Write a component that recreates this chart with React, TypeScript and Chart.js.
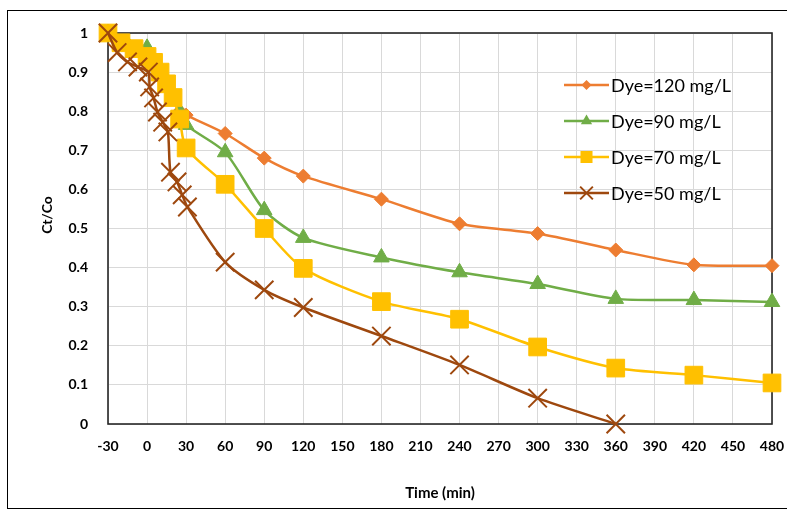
import React, { useEffect, useRef } from 'react';
import { Chart, registerables } from 'chart.js';

Chart.register(...registerables);

// ---- data ----
const xMin = -30;
const xMax = 480;
const xStep = 30;
const yMin = 0;
const yMax = 1;
const yStep = 0.1;

const seriesNames = ['Dye=120 mg/L', 'Dye=90 mg/L', 'Dye=70 mg/L', 'Dye=50 mg/L'];
const seriesColors = ['#ED7D31', '#70AD47', '#FFC000', '#9E480E'];

const time120 = [-30, -15, 0, 5, 10, 15, 20, 25, 30, 60, 90, 120, 180, 240, 300, 360, 420, 480];
const ratio120 = [1.0, 0.972, 0.945, 0.93, 0.905, 0.875, 0.84, 0.8, 0.79, 0.743, 0.68, 0.634, 0.575, 0.512, 0.487, 0.445, 0.407, 0.405];

const time90 = [-30, -15, 0, 5, 10, 15, 20, 25, 30, 60, 90, 120, 180, 240, 300, 360, 420, 480];
const ratio90 = [1.0, 0.972, 0.962, 0.93, 0.905, 0.875, 0.84, 0.8, 0.765, 0.695, 0.547, 0.476, 0.426, 0.388, 0.358, 0.32, 0.317, 0.312];

const time70 = [-30, -20, -10, 0, 5, 10, 15, 20, 25, 30, 60, 90, 120, 180, 240, 300, 360, 420, 480];
const ratio70 = [1.0, 0.975, 0.96, 0.94, 0.925, 0.9, 0.87, 0.835, 0.78, 0.706, 0.613, 0.5, 0.398, 0.313, 0.268, 0.197, 0.143, 0.125, 0.105];

const time50 = [-30, -23, -15, -7, 1, 2, 5, 8, 12, 16, 18, 23, 27, 31, 60, 90, 120, 180, 240, 300, 360];
const ratio50 = [1.0, 0.95, 0.926, 0.913, 0.9, 0.862, 0.834, 0.798, 0.772, 0.747, 0.644, 0.619, 0.586, 0.555, 0.414, 0.343, 0.298, 0.225, 0.151, 0.066, 0.0];

const seriesTimes = [time120, time90, time70, time50];
const seriesRatios = [ratio120, ratio90, ratio70, ratio50];

const pointStyles = ['rectRot', 'triangle', 'rect', 'crossRot'];
const pointRadii = [7, 9, 12.5, 13];
const legendRadii = [5, 6.5, 8.5, 9];

const FONT = 'Lato, "Open Sans", sans-serif';

function drawMarker(ctx: CanvasRenderingContext2D, style: string, x: number, y: number, r: number, color: string) {
  ctx.save();
  ctx.fillStyle = color;
  ctx.strokeStyle = color;
  ctx.beginPath();
  if (style === 'rectRot') {
    ctx.moveTo(x - r, y);
    ctx.lineTo(x, y - r);
    ctx.lineTo(x + r, y);
    ctx.lineTo(x, y + r);
    ctx.closePath();
    ctx.fill();
  } else if (style === 'triangle') {
    const w = Math.sin(Math.PI / 3) * r;
    ctx.moveTo(x, y - r);
    ctx.lineTo(x + w, y + r / 2);
    ctx.lineTo(x - w, y + r / 2);
    ctx.closePath();
    ctx.fill();
  } else if (style === 'rect') {
    const s = Math.SQRT1_2 * r;
    ctx.rect(x - s, y - s, 2 * s, 2 * s);
    ctx.fill();
  } else {
    const s = Math.SQRT1_2 * r;
    ctx.lineWidth = 2;
    ctx.moveTo(x - s, y - s);
    ctx.lineTo(x + s, y + s);
    ctx.moveTo(x + s, y - s);
    ctx.lineTo(x - s, y + s);
    ctx.stroke();
  }
  ctx.restore();
}

const framePlugin = {
  id: 'frameBox',
  beforeDatasetsDraw(chart: any) {
    const { ctx, chartArea } = chart;
    ctx.save();
    ctx.strokeStyle = '#262626';
    ctx.lineWidth = 1.6;
    ctx.strokeRect(chartArea.left, chartArea.top, chartArea.right - chartArea.left, chartArea.bottom - chartArea.top);
    ctx.restore();
  },
  afterDraw(chart: any) {
    const { ctx } = chart;
    // y axis title
    ctx.save();
    ctx.translate(47, 215);
    ctx.rotate(-Math.PI / 2);
    ctx.fillStyle = '#000';
    ctx.font = `bold 14px ${FONT}`;
    ctx.textAlign = 'center';
    ctx.textBaseline = 'middle';
    ctx.fillText('Ct/Co', 0, 0);
    ctx.restore();

    // legend
    const x0 = 564;
    const x1 = 609;
    const rows = [85, 121, 157, 193];
    ctx.save();
    ctx.font = `18px ${FONT}`;
    ctx.textBaseline = 'middle';
    ctx.textAlign = 'left';
    seriesNames.forEach((name, i) => {
      const y = rows[i];
      ctx.strokeStyle = seriesColors[i];
      ctx.lineWidth = 2.5;
      ctx.beginPath();
      ctx.moveTo(x0, y);
      ctx.lineTo(x1, y);
      ctx.stroke();
      drawMarker(ctx, pointStyles[i], (x0 + x1) / 2, y, legendRadii[i], seriesColors[i]);
      ctx.fillStyle = '#000';
      ctx.fillText(name, x1 + 2, y + 1);
    });
    ctx.restore();
  },
};

export default function App() {
  const canvasRef = useRef<HTMLCanvasElement | null>(null);

  useEffect(() => {
    const canvas = canvasRef.current;
    if (!canvas) return;
    const datasets = seriesNames.map((name, i) => ({
      label: name,
      data: seriesTimes[i].map((t, k) => ({ x: t, y: seriesRatios[i][k] })),
      order: seriesNames.length - 1 - i,
      borderColor: seriesColors[i],
      backgroundColor: seriesColors[i],
      borderWidth: 2.5,
      pointStyle: pointStyles[i],
      pointRadius: pointRadii[i],
      pointBorderColor: seriesColors[i],
      pointBackgroundColor: seriesColors[i],
      pointBorderWidth: i === 3 ? 2 : 1,
      tension: 0.25,
      fill: false,
      clip: false,
    }));

    const chart = new Chart(canvas, {
      type: 'line',
      data: { datasets },
      options: {
        animation: false,
        responsive: false,
        maintainAspectRatio: false,
        layout: { padding: { left: 0, right: 14, top: 33, bottom: 0 } },
        plugins: {
          legend: { display: false },
          tooltip: { enabled: false },
        },
        scales: {
          x: {
            type: 'linear',
            min: xMin,
            max: xMax,
            ticks: {
              stepSize: xStep,
              autoSkip: false,
              maxRotation: 0,
              padding: 14,
              color: '#000',
              font: { family: FONT, size: 14, weight: 'bold' },
            },
            grid: { color: '#d9d9d9', lineWidth: 1, drawTicks: false },
            border: { display: false },
            title: {
              display: true,
              text: 'Time (min)',
              color: '#000',
              font: { family: FONT, size: 15, weight: 'bold' },
              padding: { top: 0, bottom: 10 },
            },
            afterFit: (s: any) => {
              s.height = 88;
              s.paddingLeft = 0;
              s.paddingRight = 0;
            },
          },
          y: {
            type: 'linear',
            min: yMin,
            max: yMax,
            ticks: {
              stepSize: yStep,
              padding: 20,
              color: '#000',
              font: { family: FONT, size: 14, weight: 'bold' },
              callback: (v: any) => String(Math.round(Number(v) * 10) / 10),
            },
            grid: { color: '#d9d9d9', lineWidth: 1, drawTicks: false },
            border: { display: false },
            afterFit: (s: any) => {
              s.width = 108;
            },
          },
        },
      },
      plugins: [framePlugin],
    } as any);

    return () => {
      chart.destroy();
    };
  }, []);

  return (
    <div style={{ position: 'fixed', left: 0, top: 0, width: 787, height: 512, background: '#fff', overflow: 'hidden' }}>
      <canvas ref={canvasRef} width={787} height={512} style={{ display: 'block', width: 787, height: 512 }} />
      <div
        style={{
          position: 'absolute',
          left: 7,
          top: 10,
          width: 800,
          height: 497,
          border: '1px solid #000',
          pointerEvents: 'none',
        }}
      />
    </div>
  );
}
